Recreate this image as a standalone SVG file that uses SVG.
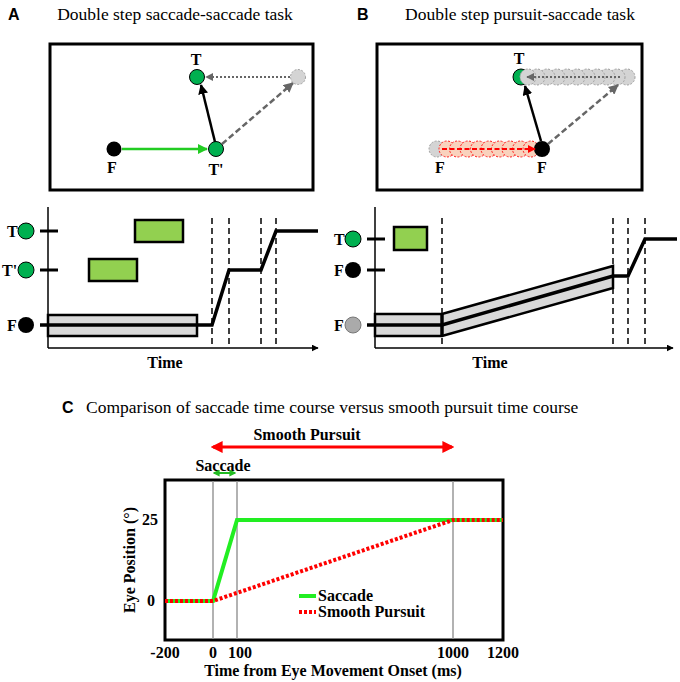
<svg xmlns="http://www.w3.org/2000/svg" width="680" height="682" viewBox="0 0 680 682">
<defs>
<style>
.ttl{font-family:"Liberation Serif",serif;font-size:17.5px;fill:#000}
.lbl{font-family:"Liberation Serif",serif;font-weight:bold;font-size:16px;fill:#000}
.pl{font-family:"Liberation Sans",Arial,sans-serif;font-weight:bold;font-size:16px;fill:#000}
.box{fill:#fff;stroke:#000;stroke-width:3}
.gc{fill:#00b050;stroke:#000;stroke-width:1}
.bc{fill:#000}
.ghost{fill:#d4d4d4;stroke:#a0a0a0;stroke-width:1;stroke-dasharray:2 1.5}
.redc{fill:#f9d2bd;stroke:#ff2020;stroke-width:1;stroke-dasharray:2 1.5}
.grect{fill:#92d050;stroke:#000;stroke-width:2.5}
.band{fill:#d9d9d9;stroke:#000;stroke-width:2.5}
.tr{fill:none;stroke:#000;stroke-width:3.5;stroke-linejoin:miter}
.dash{stroke:#000;stroke-width:1.5;stroke-dasharray:6 4}
.tick{stroke:#000;stroke-width:3}
.ax{stroke:#000;stroke-width:1.5;fill:none}
.vg{stroke:#999;stroke-width:1.5}
</style>
<marker id="mGreen" viewBox="0 0 10 10" refX="9" refY="5" markerWidth="4" markerHeight="4" orient="auto"><path d="M0,0L10,5L0,10z" fill="#22cc22"/></marker>
<marker id="mBlack" viewBox="0 0 10 10" refX="9" refY="5" markerWidth="4" markerHeight="4" orient="auto"><path d="M0,0L10,5L0,10z" fill="#000"/></marker>
<marker id="mGray" viewBox="0 0 10 10" refX="9" refY="5" markerWidth="4" markerHeight="4" orient="auto"><path d="M0,0L10,5L0,10z" fill="#666"/></marker>
<marker id="mRed" viewBox="0 0 10 10" refX="9" refY="5" markerWidth="4" markerHeight="4" orient="auto"><path d="M0,0L10,5L0,10z" fill="#ff0000"/></marker>
<marker id="mAx" viewBox="0 0 10 10" refX="9" refY="5" markerWidth="7" markerHeight="7" markerUnits="userSpaceOnUse" orient="auto"><path d="M0,0L10,5L0,10z" fill="#000"/></marker>
<marker id="mRedBig" viewBox="0 0 10 10" refX="8" refY="5" markerWidth="4" markerHeight="4" orient="auto-start-reverse"><path d="M0,0L10,5L0,10z" fill="#ff0000"/></marker>
<marker id="mGreenS" viewBox="0 0 10 10" refX="8" refY="5" markerWidth="3.5" markerHeight="3.5" orient="auto-start-reverse"><path d="M0,0L10,5L0,10z" fill="#22bb22"/></marker>
</defs>
<rect width="680" height="682" fill="#fff"/>

<!-- Panel A -->
<g id="panelA">
<text class="pl" x="8" y="20">A</text>
<text class="ttl" x="175" y="20" text-anchor="middle">Double step saccade-saccade task</text>
<rect class="box" x="50" y="44" width="263" height="146"/>
</g>
<g id="connectorsA">
<line x1="122" y1="149" x2="207" y2="149" stroke="#22cc22" stroke-width="2.5" marker-end="url(#mGreen)"/>
<line x1="215" y1="142" x2="201" y2="85" stroke="#000" stroke-width="2.5" marker-end="url(#mBlack)"/>
<line x1="222" y1="144" x2="293" y2="83" stroke="#666" stroke-width="2.5" stroke-dasharray="6 3" marker-end="url(#mGray)"/>
<line x1="290" y1="77" x2="206" y2="77" stroke="#666" stroke-width="2" stroke-dasharray="2 2" marker-end="url(#mGray)"/>
</g>
<g id="A_F"><circle class="bc" cx="114" cy="149" r="7.5"/><text class="lbl" x="112" y="173" text-anchor="middle">F</text></g>
<g id="A_Tp"><circle class="gc" cx="216" cy="149" r="7.5"/><text class="lbl" x="216" y="175" text-anchor="middle">T'</text></g>
<g id="A_T"><circle class="gc" cx="197" cy="77" r="7.5"/><text class="lbl" x="196" y="65" text-anchor="middle">T</text></g>
<g id="A_ghost"><circle class="ghost" cx="298" cy="77" r="7.5"/></g>

<!-- Panel A timeline -->
<g id="timelineA">
<rect class="grect" x="135" y="220" width="48" height="22"/>
<rect class="grect" x="89" y="259" width="48" height="22"/>
<rect class="band" x="48" y="315" width="149" height="21"/>
<line class="dash" x1="212" y1="218" x2="212" y2="348"/>
<line class="dash" x1="229" y1="218" x2="229" y2="348"/>
<line class="dash" x1="261" y1="218" x2="261" y2="348"/>
<line class="dash" x1="276" y1="218" x2="276" y2="348"/>
<line class="ax" x1="48" y1="207" x2="48" y2="348"/>
<line class="ax" x1="48" y1="348" x2="318" y2="348" marker-end="url(#mAx)"/>
<line class="tick" x1="40" y1="231" x2="58" y2="231"/>
<line class="tick" x1="40" y1="270" x2="58" y2="270"/>
<polyline class="tr" points="40,325 212,325 229,270 261,270 276,231 318,231"/>
<text class="lbl" x="7" y="237">T</text><circle class="gc" cx="26" cy="231" r="8"/>
<text class="lbl" x="2" y="276">T'</text><circle class="gc" cx="26" cy="270" r="8"/>
<text class="lbl" x="7" y="331">F</text><circle class="bc" cx="26" cy="325" r="8"/>
<text class="lbl" x="165" y="368" text-anchor="middle" font-size="17">Time</text>
</g>

<!-- Panel B -->
<g id="panelB">
<text class="pl" x="357" y="20">B</text>
<text class="ttl" x="520" y="20" text-anchor="middle">Double step pursuit-saccade task</text>
<rect class="box" x="377" y="44" width="265" height="146"/>
</g>
<g id="B_T"><circle class="gc" cx="521" cy="77" r="8"/><text class="lbl" x="519" y="64" text-anchor="middle">T</text></g>
<g id="B_ghostRow">
<circle class="ghost" cx="627" cy="77" r="8"/><circle class="ghost" cx="617" cy="77" r="8"/><circle class="ghost" cx="607" cy="77" r="8"/><circle class="ghost" cx="597" cy="77" r="8"/><circle class="ghost" cx="587" cy="77" r="8"/><circle class="ghost" cx="577" cy="77" r="8"/><circle class="ghost" cx="567" cy="77" r="8"/><circle class="ghost" cx="557" cy="77" r="8"/><circle class="ghost" cx="547" cy="77" r="8"/><circle class="ghost" cx="537" cy="77" r="8"/><circle class="ghost" cx="528" cy="77" r="8"/>
</g>
<g id="B_Fstart"><circle class="ghost" cx="437" cy="149" r="8"/><text class="lbl" x="440" y="173" text-anchor="middle">F</text></g>
<g id="B_redRow">
<circle class="redc" cx="447" cy="149" r="8"/><circle class="redc" cx="457.5" cy="149" r="8"/><circle class="redc" cx="468" cy="149" r="8"/><circle class="redc" cx="478.5" cy="149" r="8"/><circle class="redc" cx="489" cy="149" r="8"/><circle class="redc" cx="499.5" cy="149" r="8"/><circle class="redc" cx="510" cy="149" r="8"/><circle class="redc" cx="520.5" cy="149" r="8"/><circle class="redc" cx="531" cy="149" r="8"/>
</g>
<g id="B_F"><circle class="bc" cx="542" cy="149" r="8"/><text class="lbl" x="542" y="173" text-anchor="middle">F</text></g>
<g id="connectorsB">
<line x1="442" y1="149" x2="535" y2="149" stroke="#ff0000" stroke-width="2" stroke-dasharray="5 2.5" marker-end="url(#mRed)"/>
<line x1="541" y1="141" x2="525" y2="86" stroke="#000" stroke-width="2.5" marker-end="url(#mBlack)"/>
<line x1="548" y1="144" x2="618" y2="85" stroke="#666" stroke-width="2.5" stroke-dasharray="6 3" marker-end="url(#mGray)"/>
<line x1="620" y1="77" x2="527" y2="77" stroke="#666" stroke-width="2" stroke-dasharray="2 2" marker-end="url(#mGray)"/>
</g>

<!-- Panel B timeline -->
<g id="timelineB">
<rect class="grect" x="394" y="227" width="33" height="23"/>
<polygon class="band" points="375,314 442,314 613,266 613,288 442,336 375,336"/>
<line class="tr" x1="442" y1="314" x2="442" y2="336" stroke-width="2.5"/>
<line class="dash" x1="442" y1="218" x2="442" y2="348"/>
<line class="dash" x1="613" y1="218" x2="613" y2="348"/>
<line class="dash" x1="628" y1="218" x2="628" y2="348"/>
<line class="dash" x1="645" y1="218" x2="645" y2="348"/>
<line class="ax" x1="375" y1="207" x2="375" y2="348"/>
<line class="ax" x1="375" y1="348" x2="673" y2="348" marker-end="url(#mAx)"/>
<line class="tick" x1="367" y1="239" x2="385" y2="239"/>
<line class="tick" x1="367" y1="270" x2="385" y2="270"/>
<polyline class="tr" points="367,325 442,325 613,276 628,276 645,239 677,239"/>
<text class="lbl" x="334" y="245">T</text><circle class="gc" cx="353" cy="239" r="8"/>
<text class="lbl" x="334" y="276">F</text><circle class="bc" cx="353" cy="270" r="8"/>
<text class="lbl" x="334" y="331">F</text><circle cx="353" cy="325" r="8" fill="#aaa" stroke="#777" stroke-width="1"/>
<text class="lbl" x="490" y="368" text-anchor="middle" font-size="17">Time</text>
</g>

<!-- Panel C -->
<g id="panelC">
<text class="pl" x="62" y="413">C</text>
<text class="ttl" x="86" y="413">Comparison of saccade time course versus smooth pursuit time course</text>
<text class="lbl" x="307" y="440" text-anchor="middle">Smooth Pursuit</text>
<line x1="213" y1="447" x2="452" y2="447" stroke="#ff0000" stroke-width="3" marker-start="url(#mRedBig)" marker-end="url(#mRedBig)"/>
<text class="lbl" x="223" y="471" text-anchor="middle">Saccade</text>
<line x1="214" y1="473" x2="235" y2="473" stroke="#22bb22" stroke-width="2" marker-start="url(#mGreenS)" marker-end="url(#mGreenS)"/>
<rect x="165" y="480" width="338" height="160" fill="#fff" stroke="#000" stroke-width="3"/>
<line class="vg" x1="213" y1="481" x2="213" y2="639"/>
<line class="vg" x1="237" y1="481" x2="237" y2="639"/>
<line class="vg" x1="453" y1="481" x2="453" y2="639"/>
<polyline points="165,601 213,601 237,520 503,520" fill="none" stroke="#22ee22" stroke-width="4"/>
<polyline points="165,601 213,601 453,520 503,520" fill="none" stroke="#ff0000" stroke-width="4" stroke-dasharray="3 2"/>
<line x1="299" y1="596" x2="316" y2="596" stroke="#22ee22" stroke-width="4"/>
<text class="lbl" x="318" y="601">Saccade</text>
<line x1="299" y1="612" x2="316" y2="612" stroke="#ff0000" stroke-width="4" stroke-dasharray="3 2"/>
<text class="lbl" x="318" y="617">Smooth Pursuit</text>
<text class="lbl" x="158" y="525" text-anchor="end">25</text>
<text class="lbl" x="155" y="606" text-anchor="end">0</text>
<text class="lbl" x="165" y="658" text-anchor="middle">-200</text>
<text class="lbl" x="213" y="658" text-anchor="middle">0</text>
<text class="lbl" x="240" y="658" text-anchor="middle">100</text>
<text class="lbl" x="453" y="658" text-anchor="middle">1000</text>
<text class="lbl" x="503" y="658" text-anchor="middle">1200</text>
<text class="lbl" x="333" y="676" text-anchor="middle">Time from Eye Movement Onset (ms)</text>
<text class="lbl" x="135" y="560" text-anchor="middle" font-size="18" transform="rotate(-90 135 560)">Eye Position (°)</text>
</g>
</svg>
